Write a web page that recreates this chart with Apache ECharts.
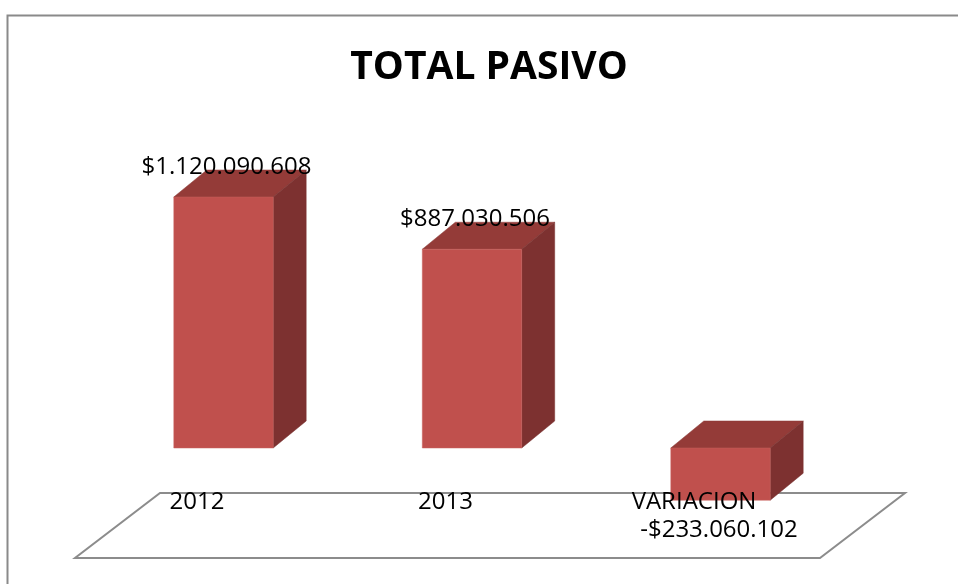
<!DOCTYPE html>
<html>
<head>
<meta charset="utf-8">
<script src="https://cdn.jsdelivr.net/npm/echarts@6/dist/echarts.min.js"></script>
<style>html,body{margin:0;padding:0;background:#fff}#c{width:958px;height:584px}</style>
</head>
<body>
<div id="c"></div>
<script>
const title = 'TOTAL PASIVO';
const categories = ['2012', '2013', 'VARIACION'];
const values = [1120090608, 887030506, -233060102];
const valueLabels = ['$1.120.090.608', '$887.030.506', '-$233.060.102'];

const FONT = '"Open Sans", "Noto Sans", sans-serif';
const LABEL_FONT = '24px ' + FONT;
const DX = 33, DY = -27;
const chart = echarts.init(document.getElementById('c'), null, {renderer: 'canvas'});

function barItem(params, api) {
  const idx = api.value(0), v = api.value(1);
  const p0 = api.coord([idx, 0]);
  const p1 = api.coord([idx, v]);
  const bw = api.size([1, 0])[0] * 0.4;
  const x0 = p0[0] - bw / 2, x1 = p0[0] + bw / 2;
  const yTop = Math.min(p0[1], p1[1]), yBot = Math.max(p0[1], p1[1]);
  const children = [
    {type: 'polygon', shape: {points: [[x0, yTop], [x0 + DX, yTop + DY], [x1 + DX, yTop + DY], [x1, yTop]]},
      style: {fill: '#943B38', stroke: '#8a3a37', lineWidth: 0.5}},
    {type: 'polygon', shape: {points: [[x1, yTop], [x1 + DX, yTop + DY], [x1 + DX, yBot + DY], [x1, yBot]]},
      style: {fill: '#7D3130', stroke: '#7a3331', lineWidth: 0.5}},
    {type: 'rect', shape: {x: x0, y: yTop, width: bw, height: yBot - yTop},
      style: {fill: '#C0504D', stroke: '#c9625f', lineWidth: 0.5}},
    {type: 'text', x: p0[0] - 26.5, y: p0[1] + 54,
      style: {text: categories[idx], fill: '#000', font: LABEL_FONT, align: 'center', verticalAlign: 'middle'}}
  ];
  if (v >= 0) {
    children.push({type: 'text', x: p0[0] + 3, y: yTop + DY - 3,
      style: {text: valueLabels[idx], fill: '#000', font: LABEL_FONT, align: 'center', verticalAlign: 'middle'}});
  } else {
    children.push({type: 'text', x: p0[0] - 1.5, y: yBot + 30,
      style: {text: valueLabels[idx], fill: '#000', font: LABEL_FONT, align: 'center', verticalAlign: 'middle'}});
  }
  return {type: 'group', children};
}

function floorItem(params, api) {
  const first = api.coord([0, 0]);
  const last = api.coord([categories.length - 1, 0]);
  const band = api.size([1, 0])[0];
  const left = first[0] - band / 2 + 60.75;
  const right = last[0] + band / 2 + 60.25;
  const yT = first[1] + 45, yB = first[1] + 110, sh = 85;
  return {type: 'polygon', shape: {points: [[left, yT], [right, yT], [right - sh, yB], [left - sh, yB]]},
    style: {fill: '#fff', stroke: '#8c8c8c', lineWidth: 2}};
}

chart.setOption({
  animation: false,
  backgroundColor: '#fff',
  title: {text: title, left: 484, top: 43, textAlign: 'center',
    textStyle: {fontFamily: FONT, fontWeight: 'bold', fontSize: 39, color: '#000'}},
  graphic: [{type: 'rect', left: 5, top: 13, shape: {width: 1000, height: 1000}, silent: true, z: -10,
    style: {fill: 'none', stroke: '#8a8a8a', lineWidth: 2}}],
  grid: {left: 99.25, right: 113.25, top: 134.27, height: 403.36, containLabel: false},
  xAxis: {type: 'category', data: categories, show: false},
  yAxis: {type: 'value', min: -400000000, max: 1400000000, show: false},
  series: [
    {type: 'custom', z: 1, renderItem: floorItem, data: [[0, 0]], silent: true},
    {type: 'custom', z: 2, renderItem: barItem, data: values.map((v, i) => [i, v]), silent: true}
  ]
});
</script>
</body>
</html>
